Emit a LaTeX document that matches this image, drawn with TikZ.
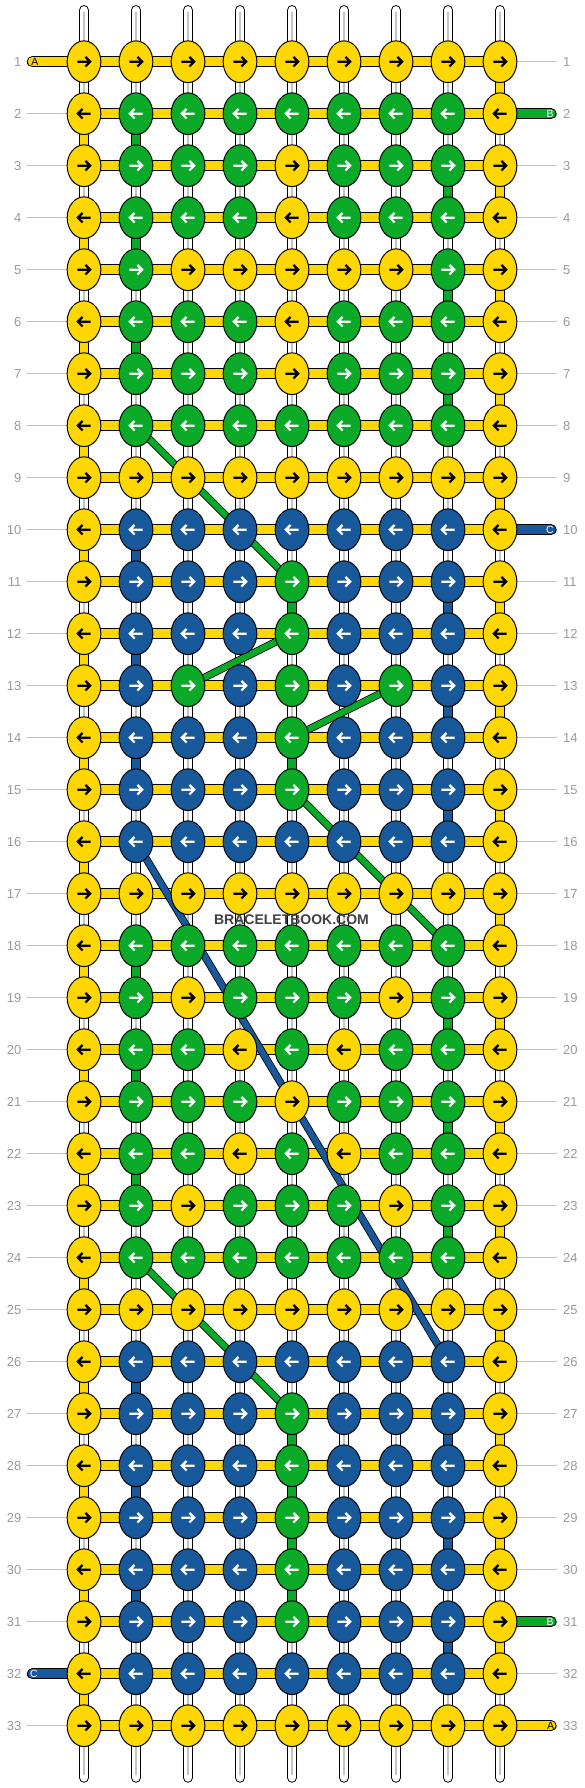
\documentclass[tikz,border=0pt]{standalone}
\usepackage{fontspec}
\setmainfont{Liberation Sans}
\usetikzlibrary{shapes.geometric}

\pgfdeclarelayer{bg}
\pgfsetlayers{bg,main}

\definecolor{kY}{HTML}{FFD700}
\definecolor{kG}{HTML}{0AAA28}
\definecolor{kB}{HTML}{18599B}
\colorlet{aY}{black}
\colorlet{aG}{white}
\colorlet{aB}{white}
\definecolor{numgray}{HTML}{9A9A9A}
\definecolor{linegray}{HTML}{C4C4C4}

\newcommand{\colx}[1]{84+52*(#1-1)}
\newcommand{\rowy}[1]{61.7+52*(#1-1)}

\tikzset{
  knot/.style={ellipse, draw=black, line width=1pt, minimum width=33.7pt, minimum height=41.7pt, inner sep=0pt},
  arrowline/.style={line width=2.2pt, line join=miter},
  warp/.style={draw=black, line width=1pt, double=white, double distance=8.7pt, line cap=round},
  core/.style={draw=linegray, line width=1.2pt},
  seg/.style={draw=black, line width=1pt, double distance=8.7pt},
  weft/.style={draw=black, line width=1pt, double=kY, double distance=9.3pt},
  tail/.style={weft, line cap=round},
  diag/.style={draw=black, line width=0.8pt, double distance=6pt},
  rowline/.style={draw=linegray, line width=1pt},
  rownum/.style={text=numgray, font=\fontsize{13}{13}\selectfont, inner sep=0pt},
  taillabel/.style={font=\fontsize{10.5}{10.5}\selectfont, inner sep=0pt},
  watermark/.style={text=black!75, font=\fontsize{14}{14}\selectfont\bfseries, inner sep=0pt}
}

\begin{document}
\begin{tikzpicture}[x=1pt, y=-1pt]
\useasboundingbox (0,0) rectangle (584,1788);

% knots, one row after the other
\foreach \row [count=\r] in {
  {Y,Y,Y,Y,Y,Y,Y,Y,Y}, {Y,G,G,G,G,G,G,G,Y}, {Y,G,G,G,Y,G,G,G,Y}, {Y,G,G,G,Y,G,G,G,Y},
  {Y,G,Y,Y,Y,Y,Y,G,Y}, {Y,G,G,G,Y,G,G,G,Y}, {Y,G,G,G,Y,G,G,G,Y}, {Y,G,G,G,G,G,G,G,Y},
  {Y,Y,Y,Y,Y,Y,Y,Y,Y}, {Y,B,B,B,B,B,B,B,Y}, {Y,B,B,B,G,B,B,B,Y}, {Y,B,B,B,G,B,B,B,Y},
  {Y,B,G,B,G,B,G,B,Y}, {Y,B,B,B,G,B,B,B,Y}, {Y,B,B,B,G,B,B,B,Y}, {Y,B,B,B,B,B,B,B,Y},
  {Y,Y,Y,Y,Y,Y,Y,Y,Y}, {Y,G,G,G,G,G,G,G,Y}, {Y,G,Y,G,G,G,Y,G,Y}, {Y,G,G,Y,G,Y,G,G,Y},
  {Y,G,G,G,Y,G,G,G,Y}, {Y,G,G,Y,G,Y,G,G,Y}, {Y,G,Y,G,G,G,Y,G,Y}, {Y,G,G,G,G,G,G,G,Y},
  {Y,Y,Y,Y,Y,Y,Y,Y,Y}, {Y,B,B,B,B,B,B,B,Y}, {Y,B,B,B,G,B,B,B,Y}, {Y,B,B,B,G,B,B,B,Y},
  {Y,B,B,B,G,B,B,B,Y}, {Y,B,B,B,G,B,B,B,Y}, {Y,B,B,B,G,B,B,B,Y}, {Y,B,B,B,B,B,B,B,Y},
  {Y,Y,Y,Y,Y,Y,Y,Y,Y}} {
  \pgfmathtruncatemacro\dir{2*mod(\r,2)-1}
  \foreach \k [count=\c] in \row {
    \node[knot, fill=k\k] (k_\r_\c) at ({\colx{\c}}, {\rowy{\r}}) {};
    \draw[arrowline, draw=a\k, shift={(k_\r_\c)}, xscale=\dir]
      (-6.7,0) -- (5.6,0) (1.4,-4.8) -- (6.2,0) -- (1.4,4.8);
  }
  \node[rownum, anchor=east] (ln_\r) at (21.5, {\rowy{\r}}) {\r};
  \node[rownum, anchor=west] (rn_\r) at (563, {\rowy{\r}}) {\r};
}

% tail ends and letters
\coordinate (endA1) at (32.4, {\rowy{1}});
\coordinate (endB2) at (551, {\rowy{2}});
\coordinate (endC10) at (551, {\rowy{10}});
\coordinate (endB31) at (551, {\rowy{31}});
\coordinate (endC32) at (32.4, {\rowy{32}});
\coordinate (endA33) at (551, {\rowy{33}});
\foreach \c in {1,...,9} {
  \coordinate (top_\c) at ({\colx{\c}}, 10.4);
  \coordinate (bot_\c) at ({\colx{\c}}, 1777.4);
}

\begin{pgfonlayer}{bg}
  % white warp strings
  \foreach \c in {1,...,9} {
    \draw[warp] (top_\c) -- (bot_\c);
    \draw[core, shorten <=2pt, shorten >=2pt] (top_\c) -- (bot_\c);
  }
  % turns at the edges
  \foreach \r in {1,...,32} {
    \pgfmathtruncatemacro\rn{\r+1}
    \pgfmathtruncatemacro\c{5+4*(2*mod(\r,2)-1)}
    \draw[seg, double=kY] (k_\r_\c.center) -- (k_\rn_\c.center);
  }
  % coloured threads going straight down
  \foreach \r/\c/\k in {2/2/G, 3/8/G, 4/2/G, 5/8/G, 6/2/G, 7/8/G,
      10/2/B, 11/8/B, 11/5/G, 12/2/B, 13/8/B, 14/2/B, 14/5/G, 15/8/B,
      18/2/G, 19/8/G, 20/2/G, 21/8/G, 22/2/G, 23/8/G,
      26/2/B, 27/8/B, 27/5/G, 28/2/B, 28/5/G, 29/8/B, 29/5/G, 30/2/B, 30/5/G, 31/8/B} {
    \pgfmathtruncatemacro\rn{\r+1}
    \draw[seg, double=k\k] (k_\r_\c.center) -- (k_\rn_\c.center);
  }
  % weft rows
  \foreach \r in {1,...,33}
    \draw[weft] (k_\r_1.center) -- (k_\r_9.center);
  % row lines
  \foreach \r in {2,...,31,33}
    \draw[rowline] ([xshift=4.5pt]ln_\r.east) -- (k_\r_1);
  \foreach \r in {1,3,4,...,9,11,12,...,30,32}
    \draw[rowline] (k_\r_9) -- ([xshift=-6.3pt]rn_\r.west);
  % tails
  \draw[tail, double=kY] (k_1_1.center) -- (endA1);
  \draw[tail, double=kG] (k_2_9.center) -- (endB2);
  \draw[tail, double=kB] (k_10_9.center) -- (endC10);
  \draw[tail, double=kG] (k_31_9.center) -- (endB31);
  \draw[tail, double=kB] (k_32_1.center) -- (endC32);
  \draw[tail, double=kY] (k_33_9.center) -- (endA33);
  % threads moving sideways
  \draw[diag, double=kG] (k_8_2.center) -- (k_11_5.center);
  \draw[diag, double=kG] (k_12_5.center) -- (k_13_3.center);
  \draw[diag, double=kG] (k_13_7.center) -- (k_14_5.center);
  \draw[diag, double=kG] (k_15_5.center) -- (k_18_8.center);
  \draw[diag, double=kB] (k_16_2.center) -- (k_26_8.center);
  \draw[diag, double=kG] (k_24_2.center) -- (k_27_5.center);
\end{pgfonlayer}

\node[taillabel, text=aY] (labA1) at (35, {\rowy{1}}) {A};
\node[taillabel, text=aG] (labB2) at (550, {\rowy{2}}) {B};
\node[taillabel, text=aB] (labC10) at (550, {\rowy{10}}) {C};
\node[taillabel, text=aG] (labB31) at (550, {\rowy{31}}) {B};
\node[taillabel, text=aB] (labC32) at (34, {\rowy{32}}) {C};
\node[taillabel, text=aY] (labA33) at (550.5, {\rowy{33}}) {A};

\node[watermark] (wm) at (291.5, 919.7) {BRACELETBOOK.COM};
\end{tikzpicture}
\end{document}
